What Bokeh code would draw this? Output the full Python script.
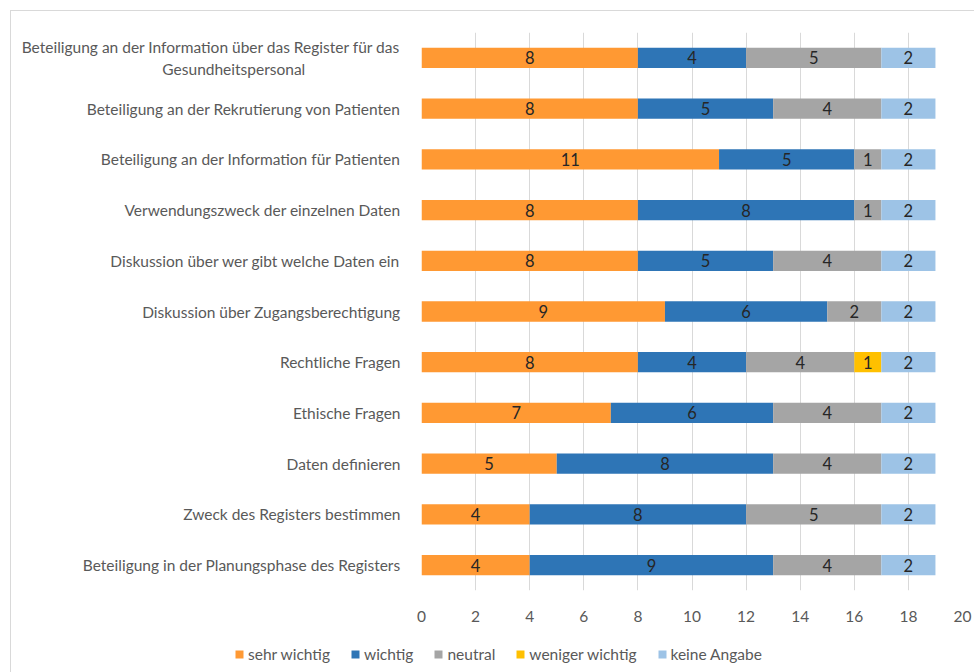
from bokeh.plotting import figure
from bokeh.layouts import column
from bokeh.models import ColumnDataSource, FactorRange, Range1d, Legend, LegendItem, FixedTicker
from bokeh.core.properties import value
from bokeh.embed import file_html
from bokeh.resources import INLINE

NB = "\u00a0"
categories = [
    "Beteiligung an der Information über das Register für das\nGesundheitspersonal" + NB * 24,
    "Beteiligung an der Rekrutierung von Patienten",
    "Beteiligung an der Information für Patienten",
    "Verwendungszweck der einzelnen Daten",
    "Diskussion über wer gibt welche Daten ein",
    "Diskussion über Zugangsberechtigung",
    "Rechtliche Fragen",
    "Ethische Fragen",
    "Daten definieren",
    "Zweck des Registers bestimmen",
    "Beteiligung in der Planungsphase des Registers",
]
sehr_wichtig = [8, 8, 11, 8, 8, 9, 8, 7, 5, 4, 4]
wichtig = [4, 5, 5, 8, 5, 6, 4, 6, 8, 8, 9]
neutral = [5, 4, 1, 1, 4, 2, 4, 4, 4, 5, 4]
weniger_wichtig = [0, 0, 0, 0, 0, 0, 1, 0, 0, 0, 0]
keine_angabe = [2, 2, 2, 2, 2, 2, 2, 2, 2, 2, 2]

series = ["sehr wichtig", "wichtig", "neutral", "weniger wichtig", "keine Angabe"]
colors = ["#FF9933", "#2E75B6", "#A5A5A5", "#FFC000", "#9DC3E6"]
x_ticks = list(range(0, 21, 2))

FONT = "Lato"
GRAY = "#595959"

p = figure(
    y_range=FactorRange(factors=list(reversed(categories))),
    x_range=Range1d(0, 20),
    width=963, height=620,
    min_border_left=410, min_border_right=12, min_border_top=21, min_border_bottom=41,
    output_backend="svg", toolbar_location=None,
)
p.outline_line_color = None

data = {"cat": categories, "sehr wichtig": sehr_wichtig, "wichtig": wichtig,
        "neutral": neutral, "weniger wichtig": weniger_wichtig, "keine Angabe": keine_angabe}
src = ColumnDataSource(data)
renderers = p.hbar_stack(series, y="cat", height=0.4, color=colors, source=src,
                         line_color=None)

# value labels
vals = [sehr_wichtig, wichtig, neutral, weniger_wichtig, keine_angabe]
lx, ly, lt = [], [], []
for i, c in enumerate(categories):
    left = 0
    for s in vals:
        v = s[i]
        if v > 0:
            lx.append(left + v / 2)
            ly.append(c)
            lt.append(str(v))
        left += v
p.text(x=lx, y=ly, text=lt, text_align="center", text_baseline="middle",
       text_font=value(FONT), text_font_size="16.5px", text_color="#262626")

p.xgrid.ticker = FixedTicker(ticks=x_ticks)
p.xgrid.grid_line_color = "#d9d9d9"
p.xgrid.grid_line_width = 1
p.ygrid.grid_line_color = None

p.xaxis.ticker = FixedTicker(ticks=x_ticks)
p.xaxis.axis_line_color = None
p.xaxis.major_tick_line_color = None
p.xaxis.minor_tick_line_color = None
p.xaxis.major_label_standoff = 14
p.xaxis.major_label_text_font = FONT
p.xaxis.major_label_text_font_size = "15.5px"
p.xaxis.major_label_text_color = GRAY

p.yaxis.axis_line_color = None
p.yaxis.major_tick_line_color = None
p.yaxis.minor_tick_line_color = None
p.yaxis.major_label_standoff = 15
p.yaxis.major_label_text_font = FONT
p.yaxis.major_label_text_font_size = "15.5px"
p.yaxis.major_label_text_color = GRAY

# legend strip below the chart
lg = figure(width=963, height=41, frame_width=963, frame_height=41,
            x_range=Range1d(0, 1), y_range=Range1d(0, 1),
            min_border=0, min_border_left=0, min_border_right=0,
            x_axis_location=None, y_axis_location=None,
            output_backend="svg", toolbar_location=None)
lg.outline_line_color = None
lg.grid.grid_line_color = None
leg_renderers = [lg.rect(x=[5], y=[5], width=[1], height=[1], color=c, line_color=None)
                 for c in colors]
items = [LegendItem(label=s, renderers=[r]) for s, r in zip(series, leg_renderers)]
legend = Legend(items=items, orientation="horizontal", location=(223, 9),
                glyph_width=10, glyph_height=10, label_text_font=FONT,
                label_text_font_size="15.5px", label_text_color=GRAY,
                spacing=20, label_standoff=4, padding=2, margin=0,
                border_line_color=None, background_fill_alpha=0)
lg.add_layout(legend, "center")

layout = column(p, lg, spacing=0,
                styles={"margin-left": "10px", "margin-top": "10px",
                        "border-left": "1px solid #d9d9d9", "border-top": "1px solid #d9d9d9"})

open("out.html", "w").write(file_html(layout, INLINE))
